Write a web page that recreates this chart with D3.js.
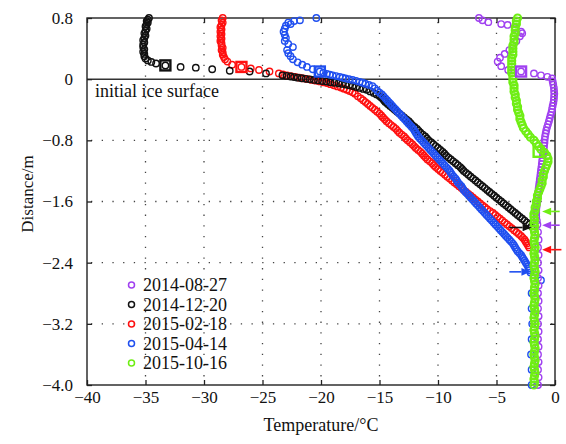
<!DOCTYPE html>
<html><head><meta charset="utf-8">
<script src="https://cdn.jsdelivr.net/npm/d3@7"></script>
<style>
body{margin:0;background:#fff;}
svg text{font-family:"Liberation Serif","Times New Roman",serif;fill:#111;}
</style></head><body>
<svg id="c" width="566" height="444"></svg>
<script>
const xTicks = [-40,-35,-30,-25,-20,-15,-10,-5,0];
const yTicks = [0.8,0,-0.8,-1.6,-2.4,-3.2,-4.0];
const seriesNames = ["2014-08-27","2014-12-20","2015-02-18","2015-04-14","2015-10-16"];
const seriesColors = ["#a040f0","#111111","#ff1010","#1f4ff0","#6fee14"];

// [temperature °C, distance m]
const p0827 = [[-6.5,0.80],[-6.2,0.77],[-5.7,0.745],[-4.6,0.72],[-4.05,0.71],[-3.4,0.67],[-2.9,0.62],[-2.8,0.60],[-3.0,0.56],[-3.3,0.50],[-3.6,0.44],[-3.9,0.38],[-4.3,0.33],[-4.7,0.28],[-4.9,0.23],[-4.6,0.17],[-4.0,0.12],[-2.9,0.10],[-1.8,0.075],[-1.2,0.05],[-0.65,0.03],[-0.25,0.01],[-0.2,-0.03],[-0.15,-0.07],[-0.1,-0.11],[-0.08,-0.15],[-0.06,-0.19],[-0.08,-0.23],[-0.1,-0.27],[-0.14,-0.31],[-0.2,-0.35],[-0.25,-0.39],[-0.3,-0.43],[-0.38,-0.47],[-0.45,-0.51],[-0.52,-0.55],[-0.6,-0.59],[-0.68,-0.63],[-0.75,-0.67],[-0.8,-0.71],[-0.85,-0.75],[-0.88,-0.79],[-0.9,-0.83],[-0.93,-0.87],[-0.96,-0.91],[-1.0,-0.95],[-1.03,-0.99],[-1.06,-1.03],[-1.1,-1.07],[-1.13,-1.11],[-1.16,-1.15],[-1.2,-1.19],[-1.23,-1.23],[-1.26,-1.27],[-1.3,-1.31],[-1.33,-1.35],[-1.36,-1.39],[-1.4,-1.43],[-1.43,-1.47],[-1.46,-1.51],[-1.5,-1.55],[-1.52,-1.59],[-1.55,-1.63],[-1.57,-1.67],[-1.6,-1.71],[-1.6,-1.75],[-1.6,-1.8],[-1.55,-1.85],[-1.5,-1.9],[-1.45,-2.0],[-1.4,-2.1],[-1.45,-2.2],[-1.4,-2.3],[-1.45,-2.4],[-1.4,-2.5],[-1.45,-2.6],[-1.4,-2.7],[-1.45,-2.8],[-1.4,-2.9],[-1.45,-3.0],[-1.4,-3.1],[-1.45,-3.2],[-1.4,-3.3],[-1.45,-3.4],[-1.4,-3.5],[-1.45,-3.6],[-1.4,-3.7],[-1.45,-3.8],[-1.4,-3.9],[-1.45,-4.0]];

const p1220 = [[-34.7,0.80],[-34.8,0.78],[-34.9,0.76],[-34.8,0.74],[-34.9,0.72],[-35.0,0.69],[-34.9,0.66],[-35.0,0.63],[-35.1,0.60],[-35.0,0.57],[-35.1,0.54],[-35.2,0.51],[-35.1,0.48],[-35.2,0.45],[-35.2,0.42],[-35.1,0.39],[-35.2,0.36],[-35.1,0.33],[-35.1,0.30],[-35.0,0.27],[-34.8,0.245],[-34.5,0.225],[-34.1,0.205],[-33.3,0.18],[-32.0,0.16],[-30.7,0.15],[-29.3,0.13],[-27.8,0.11],[-26.1,0.10],[-24.7,0.075],[-23.3,0.05],[-22.95,0.043],[-22.6,0.035],[-22.3,0.028],[-22.0,0.02],[-21.65,0.012],[-21.3,0.005],[-20.95,-0.002],[-20.6,-0.01],[-20.25,-0.017],[-19.9,-0.025],[-19.55,-0.032],[-19.2,-0.04],[-18.85,-0.047],[-18.5,-0.055],[-18.2,-0.062],[-17.9,-0.07],[-17.6,-0.08],[-17.3,-0.09],[-17.0,-0.102],[-16.7,-0.115],[-16.4,-0.127],[-16.1,-0.14],[-15.8,-0.16],[-15.5,-0.18],[-15.25,-0.2],[-15.0,-0.22],[-14.85,-0.24],[-14.7,-0.26],[-14.6,-0.28],[-14.5,-0.300],[-14.3,-0.325],[-14.1,-0.350],[-13.9,-0.375],[-13.7,-0.400],[-13.5,-0.425],[-13.3,-0.450],[-13.1,-0.475],[-12.9,-0.500],[-12.7,-0.525],[-12.5,-0.550],[-12.35,-0.575],[-12.2,-0.600],[-12.0,-0.625],[-11.8,-0.650],[-11.65,-0.675],[-11.5,-0.700],[-11.3,-0.725],[-11.1,-0.750],[-10.95,-0.775],[-10.8,-0.800],[-10.6,-0.825],[-10.4,-0.850],[-10.2,-0.875],[-10.0,-0.900],[-9.8,-0.925],[-9.6,-0.950],[-9.45,-0.975],[-9.3,-1.000],[-9.1,-1.025],[-8.9,-1.050],[-8.7,-1.075],[-8.5,-1.100],[-8.3,-1.125],[-8.1,-1.150],[-7.95,-1.175],[-7.8,-1.200],[-7.6,-1.225],[-7.4,-1.250],[-7.2,-1.275],[-7.0,-1.300],[-6.8,-1.325],[-6.6,-1.350],[-6.4,-1.375],[-6.2,-1.400],[-6.0,-1.425],[-5.8,-1.450],[-5.6,-1.475],[-5.4,-1.500],[-5.2,-1.525],[-5.0,-1.550],[-4.8,-1.575],[-4.6,-1.600],[-4.4,-1.625],[-4.2,-1.650],[-4.0,-1.675],[-3.8,-1.700],[-3.6,-1.725],[-3.4,-1.750],[-3.2,-1.775],[-3.0,-1.800],[-2.8,-1.825],[-2.6,-1.850],[-2.4,-1.875],[-2.2,-1.900],[-2.0,-1.925]];

const p0218 = [[-28.4,0.80],[-28.5,0.77],[-28.4,0.74],[-28.5,0.71],[-28.6,0.68],[-28.5,0.65],[-28.6,0.62],[-28.5,0.59],[-28.6,0.56],[-28.5,0.53],[-28.6,0.50],[-28.5,0.47],[-28.5,0.44],[-28.4,0.41],[-28.5,0.38],[-28.4,0.35],[-28.4,0.32],[-28.3,0.29],[-28.2,0.26],[-28.0,0.23],[-27.6,0.19],[-26.8,0.16],[-26.0,0.14],[-25.3,0.12],[-24.4,0.10],[-23.6,0.075],[-23.25,0.062],[-22.9,0.05],[-22.55,0.04],[-22.2,0.03],[-21.85,0.02],[-21.5,0.01],[-21.15,0.0],[-20.8,-0.01],[-20.45,-0.02],[-20.1,-0.03],[-19.8,-0.04],[-19.5,-0.05],[-19.2,-0.065],[-18.9,-0.08],[-18.6,-0.095],[-18.3,-0.11],[-18.05,-0.125],[-17.8,-0.14],[-17.55,-0.155],[-17.3,-0.17],[-17.1,-0.19],[-16.85,-0.225],[-16.6,-0.250],[-16.4,-0.275],[-16.2,-0.300],[-16.0,-0.325],[-15.8,-0.350],[-15.6,-0.375],[-15.4,-0.400],[-15.2,-0.425],[-15.0,-0.450],[-14.85,-0.475],[-14.7,-0.500],[-14.55,-0.525],[-14.4,-0.550],[-14.2,-0.575],[-14.0,-0.600],[-13.8,-0.625],[-13.6,-0.650],[-13.45,-0.675],[-13.3,-0.700],[-13.1,-0.725],[-12.9,-0.750],[-12.75,-0.775],[-12.6,-0.800],[-12.4,-0.825],[-12.2,-0.850],[-12.05,-0.875],[-11.9,-0.900],[-11.7,-0.925],[-11.5,-0.950],[-11.35,-0.975],[-11.2,-1.000],[-11.05,-1.025],[-10.9,-1.050],[-10.7,-1.075],[-10.5,-1.100],[-10.35,-1.125],[-10.2,-1.150],[-10.0,-1.175],[-9.8,-1.200],[-9.6,-1.225],[-9.4,-1.250],[-9.2,-1.275],[-9.0,-1.300],[-8.8,-1.325],[-8.6,-1.350],[-8.4,-1.375],[-8.2,-1.400],[-8.0,-1.425],[-7.8,-1.450],[-7.6,-1.475],[-7.4,-1.500],[-7.2,-1.525],[-7.0,-1.550],[-6.8,-1.575],[-6.6,-1.600],[-6.4,-1.625],[-6.2,-1.650],[-6.0,-1.675],[-5.8,-1.700],[-5.55,-1.725],[-5.3,-1.750],[-5.1,-1.775],[-4.9,-1.800],[-4.7,-1.825],[-4.5,-1.850],[-4.3,-1.875],[-4.1,-1.900],[-3.9,-1.925],[-3.7,-1.950],[-3.5,-1.975],[-3.3,-2.000],[-3.1,-2.025],[-2.9,-2.050],[-2.75,-2.075],[-2.6,-2.100],[-2.5,-2.125],[-2.4,-2.150],[-2.3,-2.175],[-2.2,-2.200]];

const p0414 = [[-20.4,0.80],[-21.8,0.77],[-22.3,0.76],[-22.8,0.74],[-22.6,0.72],[-23.0,0.70],[-23.1,0.66],[-23.2,0.62],[-23.1,0.58],[-23.0,0.54],[-23.1,0.50],[-22.8,0.46],[-22.4,0.42],[-22.9,0.38],[-22.8,0.34],[-22.6,0.30],[-22.4,0.26],[-22.0,0.22],[-21.6,0.19],[-21.2,0.16],[-20.7,0.13],[-20.1,0.10],[-19.8,0.085],[-19.5,0.07],[-19.25,0.06],[-19.0,0.05],[-18.7,0.04],[-18.4,0.03],[-18.15,0.02],[-17.9,0.01],[-17.6,0.0],[-17.3,-0.01],[-17.0,-0.022],[-16.7,-0.035],[-16.45,-0.047],[-16.2,-0.06],[-15.9,-0.075],[-15.6,-0.09],[-15.4,-0.12],[-15.2,-0.150],[-15.0,-0.175],[-14.8,-0.200],[-14.65,-0.225],[-14.5,-0.250],[-14.35,-0.275],[-14.2,-0.300],[-14.05,-0.325],[-13.9,-0.350],[-13.75,-0.375],[-13.6,-0.400],[-13.45,-0.425],[-13.3,-0.450],[-13.15,-0.475],[-13.0,-0.500],[-12.85,-0.525],[-12.7,-0.550],[-12.55,-0.575],[-12.4,-0.600],[-12.25,-0.625],[-12.1,-0.650],[-12.0,-0.675],[-11.9,-0.700],[-11.8,-0.725],[-11.7,-0.750],[-11.55,-0.775],[-11.4,-0.800],[-11.25,-0.825],[-11.1,-0.850],[-10.95,-0.875],[-10.8,-0.900],[-10.65,-0.925],[-10.5,-0.950],[-10.35,-0.975],[-10.2,-1.000],[-10.05,-1.025],[-9.9,-1.050],[-9.75,-1.075],[-9.6,-1.100],[-9.45,-1.125],[-9.3,-1.150],[-9.15,-1.175],[-9.0,-1.200],[-8.9,-1.225],[-8.8,-1.250],[-8.65,-1.275],[-8.5,-1.300],[-8.4,-1.325],[-8.3,-1.350],[-8.15,-1.375],[-8.0,-1.400],[-7.9,-1.425],[-7.8,-1.450],[-7.65,-1.475],[-7.5,-1.500],[-7.35,-1.525],[-7.2,-1.550],[-7.05,-1.575],[-6.9,-1.600],[-6.75,-1.625],[-6.6,-1.650],[-6.45,-1.675],[-6.3,-1.700],[-6.15,-1.725],[-6.0,-1.750],[-5.85,-1.775],[-5.7,-1.800],[-5.55,-1.825],[-5.4,-1.850],[-5.25,-1.875],[-5.1,-1.900],[-4.95,-1.925],[-4.8,-1.950],[-4.65,-1.975],[-4.5,-2.000],[-4.35,-2.025],[-4.2,-2.050],[-4.05,-2.075],[-3.9,-2.100],[-3.75,-2.125],[-3.6,-2.150],[-3.5,-2.175],[-3.4,-2.200],[-3.3,-2.225],[-3.2,-2.250],[-3.05,-2.275],[-2.9,-2.300],[-2.8,-2.325],[-2.7,-2.350],[-2.6,-2.375],[-2.5,-2.400],[-2.4,-2.425],[-2.3,-2.450],[-2.25,-2.475],[-2.2,-2.500],[-2.1,-2.530],[-1.2,-2.63],[-2.0,-2.8],[-2.0,-3.0],[-1.95,-3.2],[-2.0,-3.4],[-2.05,-3.6],[-2.0,-3.8],[-2.0,-4.0]];

const p1016 = [[-3.2,0.80],[-3.3,0.76],[-3.3,0.72],[-3.4,0.68],[-3.4,0.64],[-3.4,0.60],[-3.5,0.56],[-3.5,0.52],[-3.5,0.48],[-3.6,0.44],[-3.6,0.40],[-3.6,0.36],[-3.6,0.32],[-3.7,0.28],[-3.7,0.24],[-3.7,0.20],[-3.7,0.16],[-3.7,0.12],[-3.7,0.08],[-3.6,0.04],[-3.6,0.00],[-3.6,-0.04],[-3.5,-0.08],[-3.5,-0.12],[-3.5,-0.16],[-3.4,-0.20],[-3.4,-0.24],[-3.3,-0.28],[-3.3,-0.32],[-3.2,-0.36],[-3.2,-0.40],[-3.1,-0.44],[-3.0,-0.48],[-3.0,-0.52],[-2.9,-0.56],[-2.8,-0.60],[-2.7,-0.64],[-2.5,-0.68],[-2.3,-0.72],[-2.1,-0.76],[-1.8,-0.80],[-1.6,-0.84],[-1.4,-0.88],[-1.2,-0.92],[-0.9,-0.96],[-0.7,-1.00],[-0.6,-1.04],[-0.6,-1.08],[-0.7,-1.12],[-0.8,-1.16],[-0.9,-1.20],[-1.0,-1.24],[-1.0,-1.28],[-1.1,-1.32],[-1.1,-1.36],[-1.2,-1.40],[-1.3,-1.44],[-1.4,-1.48],[-1.5,-1.52],[-1.5,-1.56],[-1.6,-1.60],[-1.6,-1.64],[-1.7,-1.68],[-1.7,-1.72],[-1.8,-1.76],[-1.8,-1.80],[-1.75,-1.84],[-1.8,-1.88],[-1.75,-1.92],[-1.8,-1.96],[-1.75,-2.00],[-1.7,-2.04],[-1.75,-2.08],[-1.8,-2.12],[-1.75,-2.16],[-1.7,-2.20],[-1.75,-2.24],[-1.8,-2.28],[-1.75,-2.32],[-1.7,-2.36],[-1.75,-2.40],[-1.8,-2.44],[-1.75,-2.48],[-1.7,-2.52],[-1.75,-2.56],[-1.8,-2.60],[-1.75,-2.64],[-1.7,-2.68],[-1.75,-2.72],[-1.75,-2.76],[-1.8,-2.80],[-1.75,-2.84],[-1.7,-2.88],[-1.75,-2.92],[-1.8,-2.96],[-1.75,-3.00],[-1.7,-3.04],[-1.75,-3.08],[-1.8,-3.12],[-1.75,-3.16],[-1.7,-3.20],[-1.75,-3.24],[-1.8,-3.28],[-1.75,-3.32],[-1.7,-3.36],[-1.75,-3.40],[-1.8,-3.44],[-1.75,-3.48],[-1.7,-3.52],[-1.75,-3.56],[-1.8,-3.60],[-1.75,-3.64],[-1.7,-3.68],[-1.75,-3.72],[-1.8,-3.76],[-1.75,-3.80],[-1.7,-3.84],[-1.75,-3.88],[-1.8,-3.92],[-1.75,-3.96],[-1.8,-4.00]];

// ice surface markers (squares) per series, same order as seriesNames
const surfaceMarks = [[-2.9,0.10],[-33.3,0.18],[-26.8,0.16],[-20.1,0.10],[-1.4,-0.95]];
// ice bottom arrows: [distance, tip temperature, tail temperature]
const bottomArrows = [[-1.91,-1.1,0.4],[-1.94,-2.0,-3.9],[-2.23,-1.1,0.55],[-2.52,-2.1,-3.9],[-1.73,-1.1,0.4]];

const allSeries = [p0827,p1220,p0218,p0414,p1016];

const svg = d3.select("#c");
const L=87,R=555,T=18,B=385;
const x = d3.scaleLinear().domain([-40,0]).range([L,R]);
const y = d3.scaleLinear().domain([-4,0.8]).range([B,T]);
const fmt = v => (v<0?"\u2212":"") + Math.abs(v);
const fmtY = v => v===0 ? "0" : (v<0?"\u2212":"") + Math.abs(v).toFixed(1);

// grid (dotted)
const grid = svg.append("g").attr("stroke","#444").attr("stroke-width",1.3).attr("stroke-dasharray","1.3,9.4");
xTicks.filter(v=>v>-40&&v<0).forEach(v=>{
  grid.append("line").attr("x1",x(v)).attr("x2",x(v)).attr("y1",T+4).attr("y2",B);
});
yTicks.filter(v=>v<0&&v>-4).forEach(v=>{
  grid.append("line").attr("x1",L+4).attr("x2",R).attr("y1",y(v)).attr("y2",y(v));
});

// zero line (initial ice surface)
svg.append("line").attr("x1",L).attr("x2",R).attr("y1",y(0)).attr("y2",y(0)).attr("stroke","#333").attr("stroke-width",1.5);

// axes with inward ticks
const axB = svg.append("g").attr("transform",`translate(0,${B})`).call(d3.axisBottom(x).tickValues(xTicks).tickSizeInner(-5).tickSizeOuter(0).tickPadding(6).tickFormat(fmt));
const axT = svg.append("g").attr("transform",`translate(0,${T})`).call(d3.axisTop(x).tickValues(xTicks).tickSizeInner(-5).tickSizeOuter(0).tickFormat(""));
const axL = svg.append("g").attr("transform",`translate(${L},0)`).call(d3.axisLeft(y).tickValues(yTicks).tickSizeInner(-5).tickSizeOuter(0).tickPadding(14).tickFormat(fmtY));
const axR = svg.append("g").attr("transform",`translate(${R},0)`).call(d3.axisRight(y).tickValues(yTicks).tickSizeInner(-5).tickSizeOuter(0).tickFormat(""));
[axB,axT,axL,axR].forEach(a=>{
  a.attr("font-family","Liberation Serif, serif").attr("font-size",17);
  a.select(".domain").remove();
  a.selectAll(".tick line").attr("stroke","#222").attr("stroke-width",1.3);
  a.selectAll("text").style("font-family","'Liberation Serif',serif").style("font-size","17px").attr("fill","#111");
});
svg.append("rect").attr("x",L).attr("y",T).attr("width",R-L).attr("height",B-T).attr("fill","none").attr("stroke","#222").attr("stroke-width",1.4);

// series points
const drawOrder = [2,1,3,0,4];
drawOrder.forEach(i=>{
  const g = svg.append("g");
  const big = i===4;
  g.selectAll("circle").data(allSeries[i]).join("circle")
    .attr("cx",d=>x(d[0])).attr("cy",d=>y(d[1])).attr("r",big?3.6:3.2)
    .attr("fill","none").attr("stroke",seriesColors[i]).attr("stroke-width",big?2:1.4);
});

// surface squares
surfaceMarks.forEach((m,i)=>{
  svg.append("rect").attr("x",x(m[0])-5).attr("y",y(m[1])-5).attr("width",10).attr("height",10)
    .attr("fill","none").attr("stroke",seriesColors[i]).attr("stroke-width",2.4);
});

// ice bottom arrows
bottomArrows.forEach((a,i)=>{
  const yy=y(a[0]), xt=x(a[1]), xs=x(a[2]);
  const dir = Math.sign(xt-xs);
  const hl=9, hw=3.8;
  svg.append("line").attr("x1",xs).attr("x2",xt-dir*hl).attr("y1",yy).attr("y2",yy)
    .attr("stroke",seriesColors[i]).attr("stroke-width",1.6);
  svg.append("path").attr("d",`M${xt},${yy}L${xt-dir*hl},${yy-hw}L${xt-dir*hl},${yy+hw}Z`).attr("fill",seriesColors[i]);
});

// label
svg.append("text").attr("x",95).attr("y",97).style("font-size","18px").text("initial ice surface");

// legend
const lg = svg.append("g");
seriesNames.forEach((n,i)=>{
  const yy = 285 + i*19.5;
  lg.append("circle").attr("cx",131.5).attr("cy",yy).attr("r",3).attr("fill","none").attr("stroke",seriesColors[i]).attr("stroke-width",1.5);
  lg.append("text").attr("x",143).attr("y",yy+6).style("font-size","18px").text(n);
});

// axis titles
svg.append("text").attr("x",(L+R)/2).attr("y",431).attr("text-anchor","middle").style("font-size","18px").text("Temperature/\u00B0C");
svg.append("text").attr("transform","translate(33,194) rotate(-90)").attr("text-anchor","middle").style("font-size","17px").text("Distance/m");
</script>
</body></html>
